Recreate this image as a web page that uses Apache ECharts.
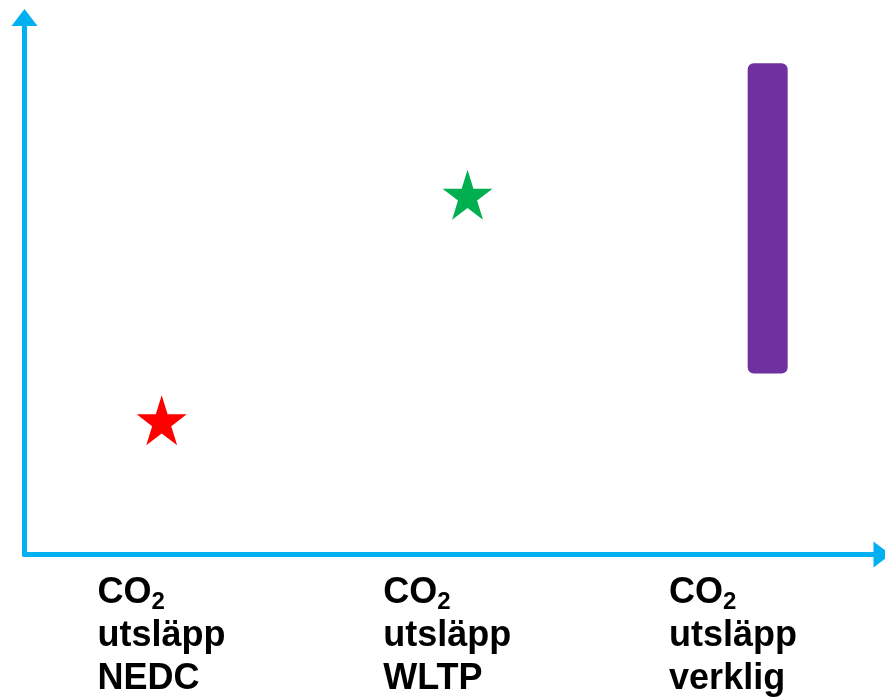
<!DOCTYPE html>
<html>
<head>
<meta charset="utf-8">
<script src="https://cdn.jsdelivr.net/npm/echarts@6/dist/echarts.min.js"></script>
<style>
html,body{margin:0;padding:0;background:#fff;}
#c{width:885px;height:700px;}
</style>
</head>
<body>
<div id="c"></div>
<script>
// ---- data ----
const categories = ['NEDC', 'WLTP', 'verklig'];
const starX = [0.48, 1.55];          // position on hidden 0..3 x scale
const starValues = [25, 67];         // NEDC, WLTP
const rangeX = [2.6];                // real-world range
const rangeLow = [33.7];
const rangeHigh = [91.5];

const AXIS = '#00B0F0';
const FONT = '"Liberation Sans", Arial, sans-serif';
const STAR = 'path://M50,0 L61.23,34.55 L97.55,34.55 L68.16,55.9 L79.39,90.45 L50,69.1 L20.61,90.45 L31.84,55.9 L2.45,34.55 L38.77,34.55 Z';

const chart = echarts.init(document.getElementById('c'), null, {renderer: 'canvas'});
chart.setOption({
  animation: false,
  backgroundColor: '#fff',
  grid: {left: 24.5, right: 3, top: 17.5, bottom: 145.5, containLabel: false},
  xAxis: [
    {
      type: 'category',
      data: categories,
      boundaryGap: true,
      axisLine: {show: true, lineStyle: {color: AXIS, width: 5}, symbol: ['none', 'triangle'], symbolSize: [26, 17]},
      axisTick: {show: false},
      splitLine: {show: false},
      axisLabel: {
        interval: 0,
        margin: 17,
        align: 'center',
        padding: [0, 12, 0, 0],
        fontFamily: FONT,
        color: '#000',
        formatter: v => '{t|CO}{sub|2}\n{t|utsläpp}\n{t|' + v + '}',
        rich: {
          t: {fontSize: 36, fontWeight: 'bold', fontFamily: FONT, color: '#000', lineHeight: 43, align: 'left'},
          sub: {fontSize: 24, fontWeight: 'bold', fontFamily: FONT, color: '#000', lineHeight: 8, verticalAlign: 'bottom', align: 'left'}
        }
      }
    },
    {type: 'value', min: 0, max: 3, show: false}
  ],
  yAxis: {
    type: 'value', min: 0, max: 100,
    axisLine: {show: true, lineStyle: {color: AXIS, width: 5}, symbol: ['none', 'triangle'], symbolSize: [26, 17]},
    axisTick: {show: false},
    axisLabel: {show: false},
    splitLine: {show: false}
  },
  series: [
    {
      type: 'scatter', xAxisIndex: 1,
      symbol: STAR, symbolSize: [50, 50],
      data: [[starX[0], starValues[0]]],
      itemStyle: {color: '#FF0000', opacity: 1}
    },
    {
      type: 'scatter', xAxisIndex: 1,
      symbol: STAR, symbolSize: [50, 50],
      data: [[starX[1], starValues[1]]],
      itemStyle: {color: '#00B050', opacity: 1}
    },
    {
      type: 'custom', xAxisIndex: 1,
      encode: {x: 0, y: [1, 2]},
      data: rangeX.map((x, i) => [x, rangeLow[i], rangeHigh[i]]),
      renderItem: (params, api) => {
        const x = api.value(0);
        const top = api.coord([x, api.value(2)]);
        const bot = api.coord([x, api.value(1)]);
        const w = 40;
        return {
          type: 'rect',
          shape: {x: top[0] - w / 2, y: top[1], width: w, height: bot[1] - top[1], r: 6},
          style: {fill: '#7030A0'}
        };
      }
    }
  ]
});
</script>
</body>
</html>
